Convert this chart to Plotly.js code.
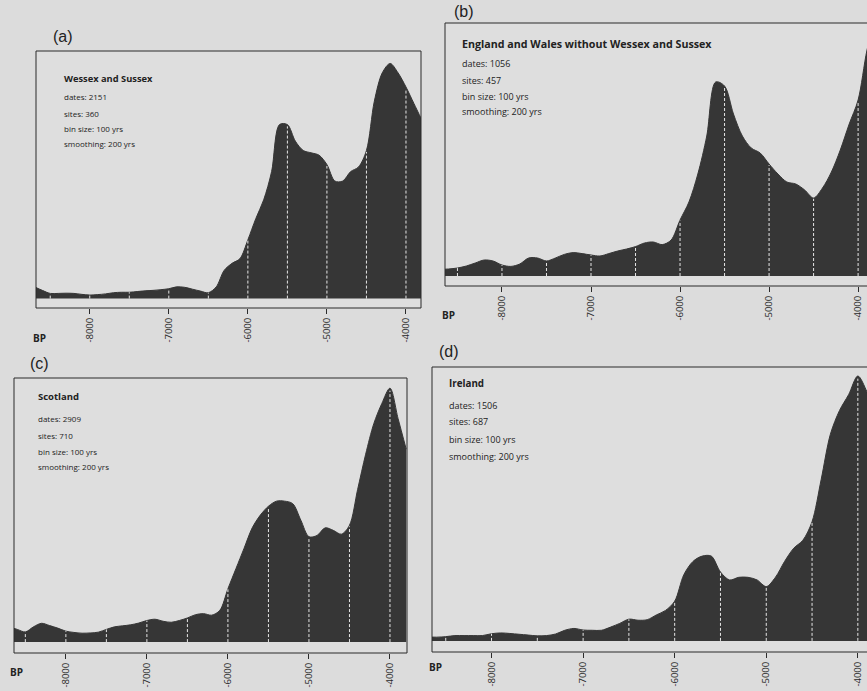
<!DOCTYPE html>
<html>
<head>
<meta charset="utf-8">
<script src="https://cdn.plot.ly/plotly-3.0.1.min.js"></script>
<style>html,body{margin:0;padding:0;background:#dcdcdc;}#chart{width:867px;height:691px;}</style>
</head>
<body>
<div id="chart"></div>
<script>
// ---- data (years BP, 100-yr bins; relative summed probability) ----
const years = [-8700,-8600,-8500,-8400,-8300,-8200,-8100,-8000,-7900,-7800,
               -7700,-7600,-7500,-7400,-7300,-7200,-7100,-7000,-6900,-6800,
               -6700,-6600,-6500,-6400,-6300,-6200,-6100,-6000,-5900,-5800,
               -5700,-5600,-5500,-5400,-5300,-5200,-5100,-5000,-4900,-4800,
               -4700,-4600,-4500,-4400,-4300,-4200,-4100,-4000,-3900,-3800];

const wessexSussex = [0.05,0.035,0.022,0.022,0.023,0.022,0.018,0.015,0.017,0.02,
                      0.025,0.027,0.027,0.03,0.033,0.035,0.038,0.042,0.05,0.048,
                      0.04,0.032,0.025,0.05,0.12,0.15,0.17,0.25,0.34,0.42,
                      0.54,0.74,0.74,0.67,0.63,0.62,0.61,0.57,0.50,0.50,
                      0.54,0.56,0.63,0.84,0.96,1.0,0.96,0.90,0.83,0.76];

const englandWales = [0.033,0.035,0.04,0.05,0.065,0.08,0.075,0.055,0.048,0.06,
                      0.09,0.09,0.075,0.09,0.108,0.117,0.112,0.105,0.10,0.112,
                      0.125,0.135,0.147,0.165,0.17,0.157,0.18,0.28,0.37,0.51,
                      0.70,0.97,0.95,0.81,0.70,0.64,0.615,0.56,0.51,0.47,
                      0.46,0.43,0.39,0.44,0.52,0.63,0.76,0.88,1.13,1.3];

const scotland = [0.06,0.05,0.04,0.06,0.074,0.065,0.055,0.043,0.038,0.035,
                  0.036,0.039,0.05,0.06,0.064,0.068,0.075,0.085,0.09,0.082,
                  0.078,0.085,0.095,0.108,0.112,0.106,0.125,0.21,0.29,0.37,
                  0.45,0.50,0.535,0.555,0.555,0.545,0.48,0.415,0.42,0.45,
                  0.44,0.425,0.46,0.60,0.74,0.86,0.94,1.0,0.88,0.76];

const ireland = [0.015,0.014,0.016,0.02,0.02,0.02,0.02,0.027,0.03,0.028,
                 0.025,0.022,0.019,0.02,0.026,0.04,0.047,0.041,0.04,0.04,
                 0.052,0.066,0.082,0.078,0.08,0.098,0.115,0.15,0.25,0.30,
                 0.32,0.32,0.26,0.23,0.24,0.24,0.23,0.205,0.24,0.30,
                 0.35,0.38,0.45,0.61,0.78,0.87,0.93,1.0,0.94,0.85];

const tickValues = [-8000,-7000,-6000,-5000,-4000];
const tickLabels = ['-8000','-7000','-6000','-5000','-4000'];
const gridYears = [-8500,-8000,-7500,-7000,-6500,-6000,-5500,-5000,-4500,-4000];

const panelLabels = ['(a)','(b)','(c)','(d)'];
const regionNames = ['Wessex and Sussex','England and Wales without Wessex and Sussex','Scotland','Ireland'];
const datesCount = [2151,1056,2909,1506];
const sitesCount = [360,457,710,687];
const binSize = '100 yrs';
const smoothing = '200 yrs';
const series = [wessexSussex, englandWales, scotland, ireland];

// ---- layout geometry (pixels) ----
const W = 867, H = 691;
const px = x => x / W;
const py = y => 1 - y / H;

const panels = [
  {box:[36,421,51,308],   xr:[-8680,-3810], yr:[-0.040,1.053], lab:[51,37],  txt:[62,[78,97,113,128,143]],  bp:[31,338], tf:9.3, sf:8},
  {box:[445,867,23,286],  xr:[-8640,-3900], yr:[-0.050,1.265], lab:[452,12], txt:[460,[44,63,80,96,112]],  bp:[440,315], tf:10.7, sf:9},
  {box:[14,407,378,653],  xr:[-8640,-3790], yr:[-0.043,1.040], lab:[28,363], txt:[36,[397,418,435,451,467]], bp:[8,672], tf:9.5, sf:8},
  {box:[432,867,367,652], xr:[-8650,-3900], yr:[-0.042,1.034], lab:[437,351],txt:[447,[383,405,422,439,456]], bp:[427,667], tf:9.8, sf:9}
];

const fillCol = '#363636';
const lineCol = '#2b2b2b';
const traces = [];
const layout = {
  width: W, height: H,
  margin: {l:0, r:0, t:0, b:0},
  paper_bgcolor: '#dcdcdc',
  plot_bgcolor: '#dedede',
  showlegend: false,
  annotations: [],
  shapes: []
};

panels.forEach((p, i) => {
  const n = i + 1;
  const xa = n === 1 ? 'x' : 'x' + n;
  const ya = n === 1 ? 'y' : 'y' + n;
  const xk = n === 1 ? 'xaxis' : 'xaxis' + n;
  const yk = n === 1 ? 'yaxis' : 'yaxis' + n;
  const vals = series[i];

  traces.push({
    type: 'scatter', mode: 'lines', x: years, y: vals,
    xaxis: xa, yaxis: ya,
    line: {color: fillCol, width: 1, shape: 'spline', smoothing: 0.9},
    fill: 'tozeroy', fillcolor: fillCol, hoverinfo: 'skip'
  });

  // dashed white guide lines at every 500 years, from baseline up to the curve
  const gx = [], gy = [];
  gridYears.forEach(g => {
    const k = years.indexOf(g);
    if (k >= 0) { gx.push(g, g, null); gy.push(0, vals[k] * 0.99, null); }
  });
  traces.push({
    type: 'scatter', mode: 'lines', x: gx, y: gy, xaxis: xa, yaxis: ya,
    line: {color: '#e6e6e6', width: 1, dash: '3px,2px'}, hoverinfo: 'skip'
  });

  layout[xk] = {
    domain: [px(p.box[0]), Math.min(1, px(p.box[1]))],
    range: p.xr, anchor: ya,
    showgrid: false, zeroline: false, showline: false,
    tickmode: 'array', tickvals: tickValues, ticktext: tickLabels,
    ticks: 'outside', ticklen: 5, tickwidth: 1, tickcolor: lineCol,
    tickangle: -90,
    tickfont: {family: 'Open Sans, sans-serif', size: 9.5, color: '#2a2a2a'},
    fixedrange: true
  };
  layout[yk] = {
    domain: [py(p.box[3]), py(p.box[2])],
    range: p.yr, anchor: xa,
    showgrid: false, zeroline: false, showline: false, showticklabels: false, ticks: '',
    fixedrange: true
  };

  // frame
  layout.shapes.push({
    type: 'rect', xref: 'paper', yref: 'paper',
    x0: px(p.box[0]), x1: px(p.box[1] === 867 ? 880 : p.box[1]),
    y0: py(p.box[3]), y1: py(p.box[2]),
    line: {color: lineCol, width: 1}, fillcolor: 'rgba(0,0,0,0)', layer: 'above'
  });

  // panel letter
  layout.annotations.push({
    xref: 'paper', yref: 'paper', x: px(p.lab[0]), y: py(p.lab[1]),
    xanchor: 'left', yanchor: 'middle', showarrow: false,
    text: panelLabels[i],
    font: {family: 'Liberation Sans, Arial, sans-serif', size: 16, color: '#222'}
  });

  // region name + stats
  const lines = [
    {t: '<b>' + regionNames[i] + '</b>', s: p.tf},
    {t: 'dates: ' + datesCount[i], s: p.sf},
    {t: 'sites: ' + sitesCount[i], s: p.sf},
    {t: 'bin size: ' + binSize, s: p.sf},
    {t: 'smoothing: ' + smoothing, s: p.sf}
  ];
  lines.forEach((ln, j) => {
    layout.annotations.push({
      xref: 'paper', yref: 'paper', x: px(p.txt[0]), y: py(p.txt[1][j]),
      xanchor: 'left', yanchor: 'middle', showarrow: false,
      text: ln.t,
      font: {family: 'Open Sans, sans-serif', size: ln.s, color: '#222'}
    });
  });

  // BP label
  layout.annotations.push({
    xref: 'paper', yref: 'paper', x: px(p.bp[0]), y: py(p.bp[1]),
    xanchor: 'left', yanchor: 'middle', showarrow: false,
    text: '<b>BP</b>',
    font: {family: 'Open Sans, sans-serif', size: 10, color: '#222'}
  });
});

Plotly.newPlot('chart', traces, layout, {staticPlot: true, displayModeBar: false});
</script>
</body>
</html>
